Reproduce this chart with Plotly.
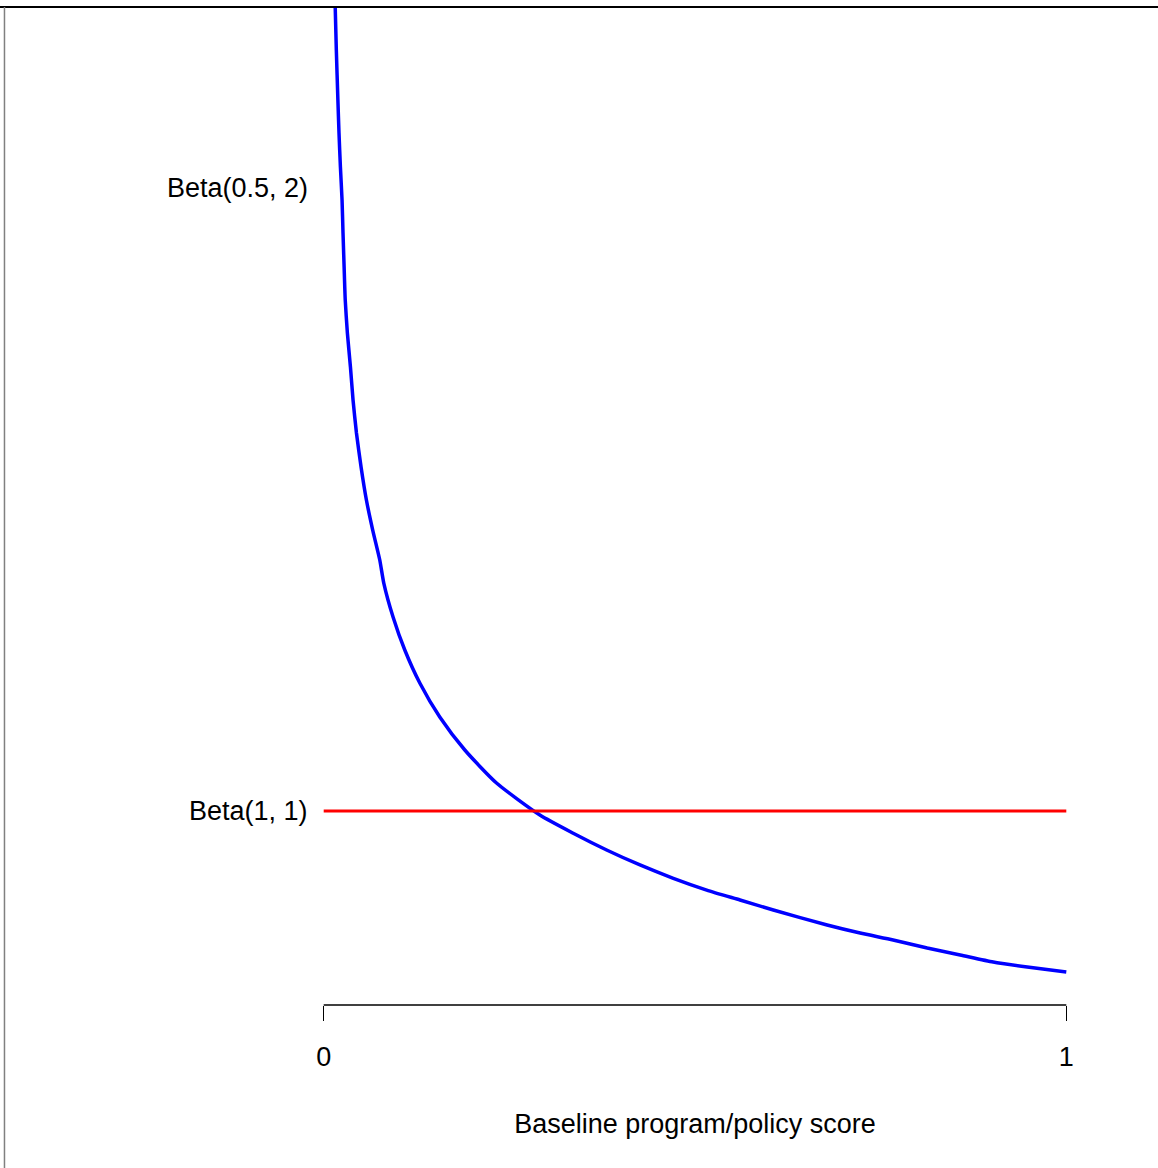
import plotly.graph_objects as go

# Data (x: baseline score, y: density)
beta_05_2_x = [0.0155, 0.0170, 0.0191, 0.0206, 0.0225, 0.0247, 0.0260, 0.0275, 0.0290,
               0.0319, 0.0360, 0.0395, 0.0441, 0.0503, 0.0575, 0.0660, 0.0755, 0.0809,
               0.0934, 0.1092, 0.1294, 0.1563, 0.1900, 0.2327, 0.2911, 0.3360, 0.3810,
               0.4259, 0.4708, 0.5158, 0.5606, 0.6055, 0.6779, 0.7224, 0.7668,
               0.8127, 0.8571, 0.9016, 0.9474, 1.0]
beta_05_2_y = [5.994, 5.727, 5.416, 5.211, 5.000, 4.795, 4.590, 4.379, 4.174,
               3.969, 3.758, 3.553, 3.348, 3.137, 2.932, 2.745, 2.559, 2.416,
               2.205, 2.000, 1.795, 1.584, 1.379, 1.174, 0.975, 0.862, 0.758,
               0.665, 0.582, 0.509, 0.447, 0.385, 0.292, 0.242, 0.199,
               0.149, 0.106, 0.062, 0.031, 0.0]
beta_1_1_x = [0.0, 1.0]
beta_1_1_y = [1.0, 1.0]

label_texts = ["Beta(0.5, 2)", "Beta(1, 1)"]
label_y = [4.87, 1.0]
x_tick_vals = [0, 1]
x_tick_text = ["0", "1"]
x_title = "Baseline program/policy score"

FONT = "Liberation Sans, Arial, sans-serif"
FS = 27

fig = go.Figure()
fig.add_trace(go.Scatter(x=beta_05_2_x, y=beta_05_2_y, mode="lines",
                         line=dict(color="#0000ff", width=3.5, shape="spline", smoothing=0.6),
                         hoverinfo="skip"))
fig.add_trace(go.Scatter(x=beta_1_1_x, y=beta_1_1_y, mode="lines",
                         line=dict(color="#ff0000", width=3), hoverinfo="skip"))

for t, yv in zip(label_texts, label_y):
    fig.add_annotation(x=-0.019, y=yv, xref="x", yref="y", text=t, showarrow=False,
                       xanchor="right", yanchor="middle",
                       font=dict(family=FONT, size=FS, color="black"))

# R-style axis segment from first to last tick
fig.add_shape(type="line", xref="x", yref="paper", x0=x_tick_vals[0], x1=x_tick_vals[-1],
              y0=0, y1=0, line=dict(color="black", width=1.3))

# Outer frame (top and left)
fig.add_shape(type="line", xref="paper", yref="paper", x0=-0.37, x1=1.08, y0=1, y1=1,
              line=dict(color="black", width=2))
fig.add_shape(type="line", xref="paper", yref="paper", x0=-0.3610, x1=-0.3610, y0=1, y1=-0.17,
              line=dict(color="#808080", width=1.5))

fig.update_layout(
    width=1158, height=1168,
    margin=dict(l=294, r=62, t=7, b=163, autoexpand=False),
    paper_bgcolor="white", plot_bgcolor="white",
    showlegend=False,
    font=dict(family=FONT, size=FS, color="black"),
    xaxis=dict(range=[-0.04, 1.04], tickvals=x_tick_vals, ticktext=x_tick_text,
               ticks="outside", ticklen=15, tickwidth=1.3, tickcolor="black",
               showline=False, showgrid=False, zeroline=False,
               tickfont=dict(family=FONT, size=FS, color="black"),
               ticklabelstandoff=13,
               title=dict(text=x_title, standoff=42,
                          font=dict(family=FONT, size=FS, color="black"))),
    yaxis=dict(range=[-0.205, 5.994], showticklabels=False, ticks="",
               showline=False, showgrid=False, zeroline=False),
)

fig.write_html("out.html", config={"displayModeBar": False},
               post_script="document.body.style.margin='0';document.body.style.overflow='hidden';")
